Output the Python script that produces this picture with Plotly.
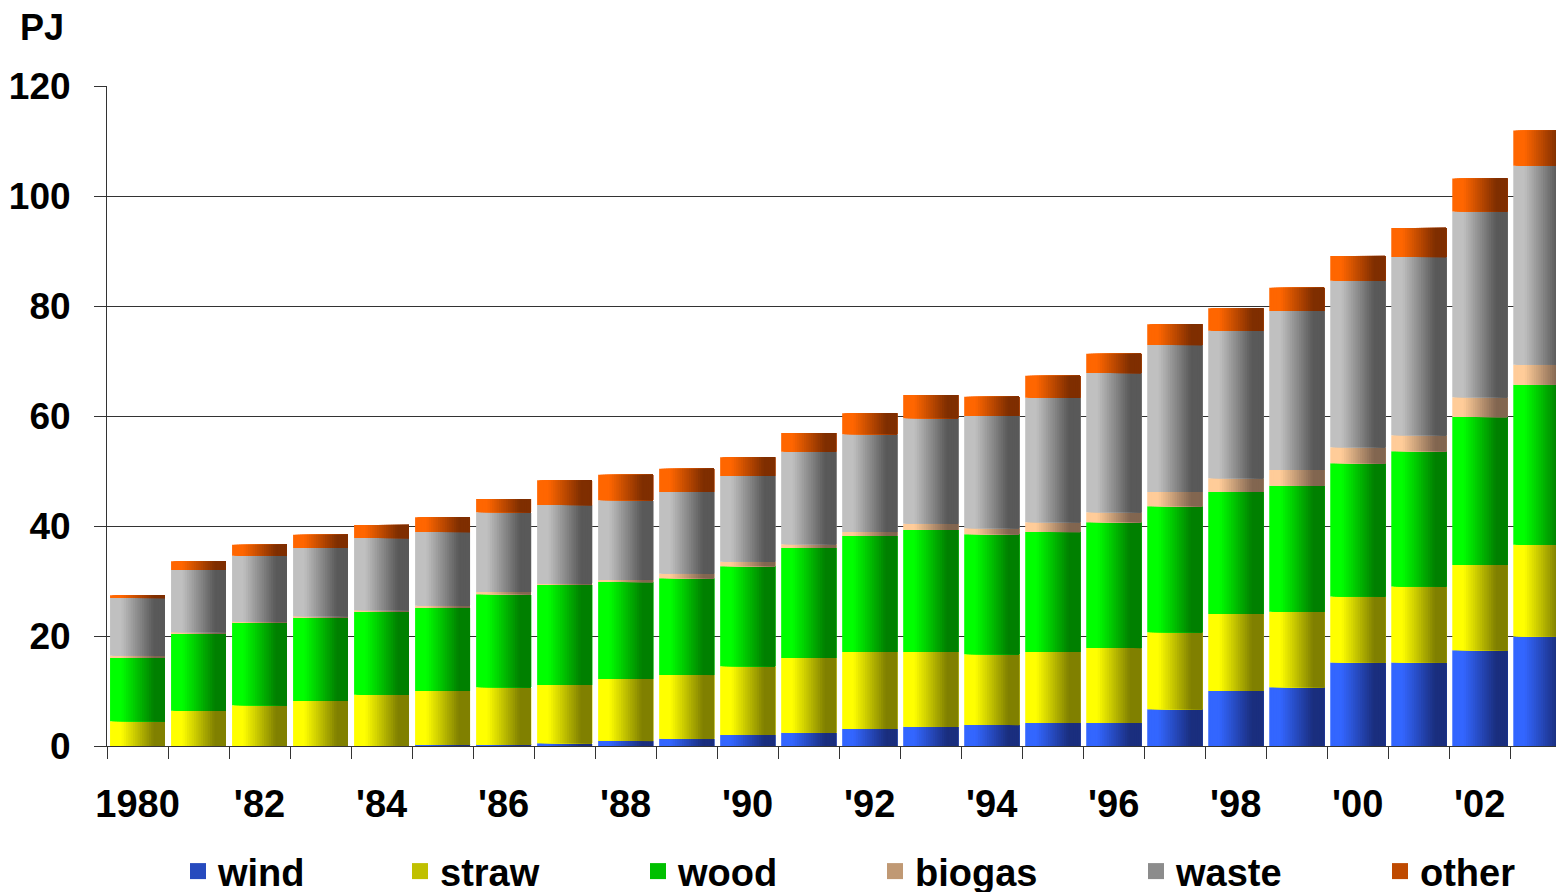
import plotly.graph_objects as go
import numpy as np

years = [str(y) for y in range(1980, 2004)]
tick_labels = ["1980", "", "'82", "", "'84", "", "'86", "", "'88", "", "'90", "",
               "'92", "", "'94", "", "'96", "", "'98", "", "'00", "", "'02", ""]

wind   = [0.0, 0.0, 0.0, 0.0, 0.0, 0.2, 0.2, 0.5, 0.9, 1.3, 2.0, 2.4,
          3.1, 3.5, 3.8, 4.2, 4.2, 6.7, 10.0, 10.7, 15.2, 15.2, 17.4, 19.9]
straw  = [4.5, 6.4, 7.4, 8.2, 9.3, 9.8, 10.5, 10.6, 11.3, 11.6, 12.5, 13.6,
          14.0, 13.6, 12.9, 12.9, 13.6, 14.0, 14.0, 13.7, 12.0, 13.8, 15.5, 16.7]
wood   = [11.5, 14.0, 15.1, 15.1, 15.1, 15.1, 16.9, 18.2, 17.6, 17.6, 18.2, 20.0,
          21.1, 22.2, 21.8, 21.8, 22.9, 22.9, 22.2, 22.9, 24.2, 24.6, 26.9, 29.1]
biogas = [0.4, 0.3, 0.1, 0.3, 0.3, 0.4, 0.4, 0.2, 0.4, 0.8, 0.8, 0.7,
          0.7, 1.1, 1.1, 1.8, 1.8, 2.6, 2.5, 2.9, 2.9, 2.9, 3.6, 3.6]
waste  = [10.5, 11.3, 12.0, 12.4, 13.1, 13.4, 14.5, 14.3, 14.5, 14.9, 15.6, 16.8,
          17.8, 19.2, 20.4, 22.6, 25.3, 26.7, 26.8, 28.9, 30.3, 32.4, 33.8, 36.2]
other  = [0.5, 1.6, 2.0, 2.4, 2.4, 2.7, 2.4, 4.5, 4.6, 4.2, 3.4, 3.4,
          3.8, 4.2, 3.5, 4.0, 3.5, 3.8, 4.1, 4.2, 4.5, 5.3, 6.0, 6.4]

series_names = ["wind", "straw", "wood", "biogas", "waste", "other"]
series_vals = [wind, straw, wood, biogas, waste, other]
light_cols = ["#3366FF", "#FFFF00", "#00FF00", "#FFCC99", "#C0C0C0", "#FF6600"]
dark_cols  = ["#1A2E7E", "#808000", "#008000", "#826650", "#595959", "#7F2E00"]

def hex2rgb(h):
    h = h.lstrip("#")
    return np.array([int(h[i:i+2], 16) for i in (0, 2, 4)], dtype=float)

def ramp(light, dark, t):
    s = min(max((t - 0.2) / 0.6, 0.0), 1.0)
    c = hex2rgb(light) * (1 - s) + hex2rgb(dark) * s
    return "rgb(%d,%d,%d)" % tuple(np.round(c).astype(int))

BAR_W = 0.9
N = 24
FONT = "Liberation Sans, Arial, sans-serif"

fig = go.Figure()
base = np.zeros(len(years))
for i, (name, vals) in enumerate(zip(series_names, series_vals)):
    v = np.array(vals, dtype=float)
    for k in range(N):
        t = (k + 0.5) / N
        fig.add_trace(go.Bar(
            x=years, y=v, base=base.copy(),
            offset=-BAR_W / 2 + BAR_W * k / N,
            width=BAR_W * (1 - k / N),
            marker=dict(color=ramp(light_cols[i], dark_cols[i], t), line=dict(width=0)),
            showlegend=False, hoverinfo="skip",
        ))
    base = base + v

# legend entries
legend_x_px = [178, 400, 638, 875, 1136, 1380]
plot_left, plot_w = 107, 1449
layout_legends = {}
for i, name in enumerate(series_names):
    key = "legend" if i == 0 else "legend%d" % (i + 1)
    fig.add_trace(go.Scatter(
        x=[None], y=[None], mode="markers", name=name,
        marker=dict(symbol="square", size=16, color=ramp(light_cols[i], dark_cols[i], 0.5)),
        legend=key, showlegend=True,
    ))
    layout_legends[key] = dict(
        x=(legend_x_px[i] - plot_left) / plot_w, xanchor="left",
        y=-0.19, yanchor="middle", orientation="h",
        bgcolor="rgba(0,0,0,0)",
        font=dict(family=FONT, size=38, color="black", weight="bold"),
    )

fig.update_layout(
    width=1556, height=892,
    barmode="overlay",
    margin=dict(l=107, r=0, t=86, b=146, autoexpand=False),
    plot_bgcolor="white", paper_bgcolor="white",
    **layout_legends,
    xaxis=dict(
        type="category", range=[-0.5, 23.25],
        tickmode="array", tickvals=years, ticktext=tick_labels, tickangle=0,
        tickson="boundaries", ticks="outside", ticklen=12, tickwidth=1, tickcolor="#333333",
        showline=True, linecolor="#333333", linewidth=1, showgrid=False,
        tickfont=dict(family=FONT, size=38, color="black", weight="bold"),
        ticklabelstandoff=24,
    ),
    yaxis=dict(
        range=[0, 120], tickmode="array", tickvals=[0, 20, 40, 60, 80, 100, 120],
        ticks="outside", ticklen=12, tickwidth=1, tickcolor="#333333",
        showline=True, linecolor="#333333", linewidth=1,
        showgrid=True, gridcolor="#333333", gridwidth=1, zeroline=False,
        tickfont=dict(family=FONT, size=37, color="black", weight="bold"),
        ticklabelstandoff=16,
    ),
    annotations=[dict(
        text="PJ", xref="paper", yref="paper",
        x=(18 - plot_left) / plot_w, xanchor="left",
        y=(746 - 28) / 660, yanchor="middle", showarrow=False,
        font=dict(family=FONT, size=36, color="black", weight="bold"),
    )],
)

fig.write_html("out.html")
